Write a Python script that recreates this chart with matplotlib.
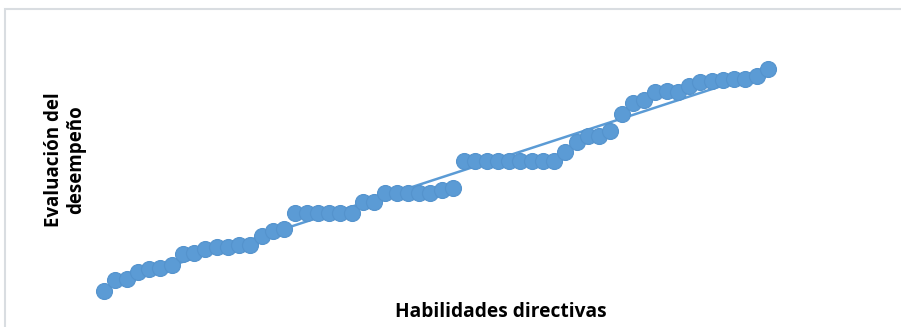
import numpy as np
import matplotlib.pyplot as plt
from matplotlib.patches import Rectangle

# Data (no axis scale shown, units are arbitrary)
habilidades = list(range(1, 61))
evaluacion = [9, 20, 21, 28, 31, 32, 35, 46, 47, 51,
              53, 53, 55, 55, 64, 69, 71, 87, 87, 87,
              87, 87, 87, 98, 98, 107, 107, 107, 107, 107,
              110, 112, 139, 139, 139, 139, 139, 139, 139, 139,
              139, 148, 158, 164, 164, 169, 186, 197, 200, 208,
              209, 208, 214, 218, 219, 220, 221, 221, 224, 231]

x_label = "Habilidades directivas"
y_label = "Evaluación del\ndesempeño"

W, H = 901, 327
fig = plt.figure(figsize=(W / 100, H / 100), dpi=100)

# Light gray chart border (right and bottom run off the image)
fig.patches.append(Rectangle((5 / W, -0.05), 1.2, 1 - 9 / H + 0.05,
                             transform=fig.transFigure, fill=False,
                             edgecolor="#d9dde1", linewidth=1.5))

# axes in pixel coordinates: x 80..790, y 50..300
ax = fig.add_axes([80 / W, (H - 300) / H, 710 / W, 250 / H])
ax.set_xlim(1 - 24 / 11.25, 1 + 686 / 11.25)
ax.set_ylim(0, 250)
ax.axis("off")

blue = "#5b9bd5"
x = np.array(habilidades)
y = np.array(evaluacion)

# Linear trendline
coef = np.polyfit(x, y, 1)
ax.plot(x, np.polyval(coef, x), color=blue, linewidth=1.8, zorder=2)

ax.plot(x, y, linestyle="none", marker="o", markersize=11.5,
        markerfacecolor=blue, markeredgecolor="#5493cd", markeredgewidth=0.8,
        zorder=3, clip_on=False)

font = ["Open Sans", "DejaVu Sans"]
fig.text(501 / W, 1 - 312 / H, x_label, ha="center", va="center",
         fontsize=13.8, fontweight="bold", family=font)
fig.text(65 / W, 1 - 160 / H, y_label, ha="center", va="center",
         rotation=90, fontsize=13.5, fontweight="bold", family=font,
         linespacing=1.15)

fig.savefig("out.png", dpi=100)
